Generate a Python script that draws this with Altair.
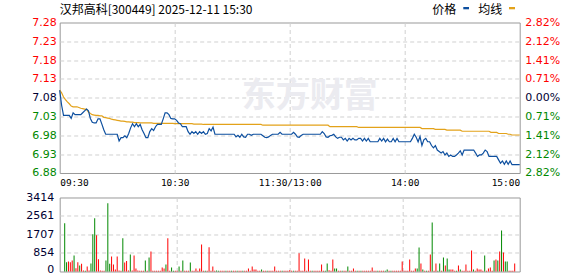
import altair as alt
import pandas as pd

title_text = "汉邦高科[300449] 2025-12-11 15:30"
legend_labels = ["价格", "均线"]
watermark_text = "东方财富"
pre_close = 7.08
price_ticks = [6.88, 6.93, 6.98, 7.03, 7.08, 7.13, 7.18, 7.23, 7.28]
vol_ticks = [0, 854, 1707, 2561, 3414]
time_ticks = [0, 60, 120, 180, 240]
time_labels = ["09:30", "10:30", "11:30/13:00", "14:00", "15:00"]

price = [
    7.100, 7.060, 7.033, 7.033, 7.033, 7.033, 7.025, 7.040, 7.035, 7.035,
    7.035, 7.035, 7.040, 7.045, 7.050, 7.045, 7.025, 7.015, 7.013, 7.013,
    7.024, 7.024, 7.010, 6.995, 6.983, 6.983, 6.983, 6.983, 6.983, 6.983,
    6.983, 6.965, 6.974, 6.974, 6.979, 6.974, 6.985, 7.000, 7.011, 7.003,
    7.011, 7.003, 7.009, 6.995, 6.985, 6.974, 6.974, 6.990, 6.998, 6.993,
    7.003, 7.009, 7.009, 7.009, 7.024, 7.040, 7.040, 7.035, 7.025, 7.024,
    7.024, 7.020, 7.013, 7.011, 7.003, 7.003, 7.003, 6.990, 6.983, 6.990,
    6.985, 6.990, 6.983, 6.990, 6.985, 6.990, 6.983, 6.985, 6.998, 6.992,
    7.002, 6.983, 6.983, 6.983, 6.983, 6.983, 6.983, 6.983, 6.983, 6.983,
    6.983, 6.983, 6.976, 6.980, 6.975, 6.983, 6.976, 6.975, 6.983, 6.983,
    6.980, 6.983, 6.983, 6.983, 6.983, 6.983, 6.979, 6.975, 6.974, 6.976,
    6.980, 6.983, 6.983, 6.983, 6.983, 6.988, 6.983, 6.983, 6.983, 6.983,
    6.983, 6.983, 6.988, 6.983, 6.976, 6.975, 6.980, 6.983, 6.983, 6.983,
    6.983, 6.983, 6.983, 6.983, 6.983, 6.983, 6.983, 6.990, 6.985, 6.976,
    6.975, 6.979, 6.980, 6.983, 6.976, 6.972, 6.975, 6.975, 6.968, 6.972,
    6.965, 6.972, 6.968, 6.972, 6.968, 6.968, 6.972, 6.972, 6.965, 6.972,
    6.965, 6.972, 6.963, 6.963, 6.963, 6.963, 6.963, 6.972, 6.965, 6.972,
    6.963, 6.970, 6.963, 6.963, 6.972, 6.963, 6.972, 6.963, 6.963, 6.963,
    6.963, 6.963, 6.963, 6.963, 6.972, 6.983, 6.975, 6.963, 6.977, 6.953,
    6.968, 6.972, 6.963, 6.963, 6.953, 6.947, 6.953, 6.941, 6.937, 6.933,
    6.937, 6.928, 6.933, 6.924, 6.928, 6.924, 6.924, 6.928, 6.933, 6.939,
    6.928, 6.941, 6.941, 6.941, 6.941, 6.941, 6.941, 6.933, 6.924, 6.928,
    6.928, 6.933, 6.941, 6.937, 6.924, 6.924, 6.924, 6.924, 6.924, 6.915,
    6.906, 6.912, 6.903, 6.912, 6.903, 6.912, 6.902, 6.902, 6.902, 6.902,
    6.902,
]

avg = [
    7.100, 7.093, 7.082, 7.075, 7.069, 7.064, 7.058, 7.056, 7.056, 7.056,
    7.054, 7.052, 7.051, 7.050, 7.049, 7.042, 7.038, 7.035, 7.034, 7.033,
    7.033, 7.032, 7.032, 7.028, 7.027, 7.026, 7.025, 7.023, 7.022, 7.021,
    7.020, 7.019, 7.018, 7.018, 7.017, 7.016, 7.016, 7.015, 7.015, 7.014,
    7.014, 7.014, 7.013, 7.013, 7.013, 7.013, 7.013, 7.013, 7.013, 7.012,
    7.012, 7.012, 7.012, 7.012, 7.012, 7.012, 7.012, 7.012, 7.012, 7.012,
    7.011, 7.011, 7.011, 7.011, 7.011, 7.011, 7.011, 7.011, 7.011, 7.011,
    7.010, 7.010, 7.010, 7.010, 7.010, 7.009, 7.009, 7.009, 7.009, 7.009,
    7.009, 7.009, 7.009, 7.009, 7.009, 7.009, 7.009, 7.009, 7.009, 7.009,
    7.009, 7.009, 7.009, 7.009, 7.009, 7.009, 7.009, 7.009, 7.009, 7.009,
    7.009, 7.009, 7.009, 7.009, 7.009, 7.009, 7.007, 7.007, 7.007, 7.007,
    7.007, 7.007, 7.007, 7.007, 7.007, 7.007, 7.007, 7.007, 7.007, 7.007,
    7.007, 7.007, 7.007, 7.007, 7.007, 7.007, 7.007, 7.007, 7.007, 7.007,
    7.007, 7.007, 7.007, 7.007, 7.007, 7.007, 7.007, 7.007, 7.007, 7.007,
    7.007, 7.003, 7.003, 7.003, 7.003, 7.003, 7.003, 7.003, 7.003, 7.003,
    7.003, 7.003, 7.003, 7.003, 7.003, 7.003, 7.001, 7.001, 7.001, 7.001,
    7.001, 7.001, 7.001, 7.001, 7.001, 7.001, 7.001, 7.001, 7.001, 7.001,
    7.001, 7.001, 7.001, 7.001, 7.001, 7.001, 7.001, 7.001, 7.001, 7.001,
    7.001, 7.001, 7.001, 7.001, 7.001, 7.001, 7.001, 7.001, 7.001, 6.998,
    6.998, 6.998, 6.998, 6.998, 6.998, 6.998, 6.996, 6.996, 6.996, 6.996,
    6.996, 6.996, 6.994, 6.994, 6.994, 6.994, 6.994, 6.994, 6.994, 6.994,
    6.991, 6.991, 6.991, 6.991, 6.991, 6.991, 6.991, 6.991, 6.991, 6.991,
    6.991, 6.991, 6.991, 6.991, 6.991, 6.988, 6.988, 6.988, 6.988, 6.985,
    6.985, 6.985, 6.985, 6.985, 6.983, 6.983, 6.981, 6.981, 6.981, 6.981,
    6.981,
]

volume = [
    2225, 430, 460, 430, 510, 740, 155, 430, 280, 355,
    50, 30, 230, 50, 370, 1715, 2460, 1670, 560, 50,
    40, 40, 510, 3150, 355, 695, 325, 90, 695, 50,
    40, 1530, 420, 480, 50, 785, 50, 740, 140, 50,
    40, 40, 40, 510, 40, 650, 925, 40, 40, 40,
    40, 40, 185, 140, 325, 1530, 40, 185, 40, 40,
    40, 230, 40, 510, 40, 40, 40, 420, 40, 40,
    140, 40, 140, 1250, 40, 40, 40, 1120, 40, 230,
    40, 50, 40, 40, 30, 40, 40, 30, 40, 40,
    40, 40, 40, 30, 40, 40, 40, 40, 140, 40,
    230, 90, 90, 40, 40, 90, 40, 40, 40, 40,
    40, 40, 230, 40, 40, 40, 40, 40, 40, 40,
    60, 40, 40, 40, 40, 846, 40, 40, 600, 40,
    554, 40, 40, 40, 40, 40, 40, 323, 40, 40,
    370, 60, 40, 554, 140, 140, 40, 40, 40, 40,
    40, 230, 40, 40, 140, 40, 40, 40, 40, 40,
    40, 40, 40, 40, 185, 40, 40, 40, 40, 40,
    40, 40, 92, 40, 40, 40, 40, 40, 40, 40,
    461, 40, 40, 40, 554, 40, 40, 140, 140, 1107,
    370, 92, 40, 40, 40, 784, 2261, 40, 370, 40,
    370, 40, 646, 277, 600, 92, 92, 92, 40, 40,
    277, 92, 40, 40, 323, 40, 40, 969, 92, 40,
    140, 92, 92, 40, 738, 40, 140, 185, 40, 508,
    554, 508, 923, 1892, 877, 461, 461, 40, 40, 40,
    370,
]

vol_dir = [
    -1, -1, 1, 1, 1, -1, 1, 1, -1, 1,
    1, -1, 1, 1, -1, -1, -1, 1, 1, 1,
    1, 1, -1, -1, -1, 1, 1, 1, 1, 1,
    1, -1, 1, 1, 1, -1, 1, 1, 1, 1,
    1, 1, 1, -1, 1, -1, 1, 1, 1, 1,
    1, 1, 1, 1, -1, 1, 1, -1, -1, 1,
    1, -1, 1, -1, 1, 1, 1, -1, 1, 1,
    1, 1, 1, 1, 1, -1, 1, 1, 1, 1,
    1, -1, -1, 1, 1, 1, -1, 1, 1, -1,
    1, 1, -1, 1, 1, -1, 1, 1, 1, 1,
    1, 1, 1, 1, 1, -1, 1, 1, -1, 1,
    1, 1, 1, 1, 1, 1, -1, 1, 1, 1,
    1, 1, -1, 1, 1, 1, 1, 1, 1, 1,
    1, 1, -1, 1, 1, 1, 1, 1, 1, -1,
    -1, 1, 1, 1, -1, -1, 1, 1, -1, 1,
    1, -1, 1, 1, 1, 1, -1, 1, -1, 1,
    1, 1, 1, 1, 1, 1, 1, -1, 1, 1,
    1, -1, -1, 1, -1, 1, 1, 1, 1, 1,
    1, 1, 1, 1, 1, 1, 1, 1, -1, -1,
    1, -1, 1, -1, 1, 1, -1, 1, 1, -1,
    -1, 1, -1, 1, -1, -1, 1, 1, 1, -1,
    1, -1, 1, 1, 1, 1, 1, 1, -1, 1,
    1, 1, 1, 1, -1, 1, 1, 1, 1, -1,
    1, -1, 1, -1, 1, -1, -1, 1, 1, 1,
    1,
]

df = pd.DataFrame({
    "i": list(range(len(price))),
    "price": price,
    "avg": avg,
    "vol": volume,
    "dir": vol_dir,
})

RED = "#ff0000"
GREEN = "#008800"
NAVY = "#000033"
GRID = "#d0d0d0"
BLUE_LINE = "#0d4f9f"
GOLD_LINE = "#e3a21a"

x_scale = alt.Scale(domain=[time_ticks[0], time_ticks[-1]], nice=False, zero=False)
y_price_scale = alt.Scale(domain=[price_ticks[0], price_ticks[-1]], nice=False, zero=False)

lab_map = "{" + ",".join(f"'{v}':'{t}'" for v, t in zip(time_ticks, time_labels)) + "}"

price_color = {
    "condition": [
        {"test": f"datum.value > {pre_close + 0.005}", "value": RED},
        {"test": f"datum.value > {pre_close - 0.005}", "value": NAVY},
    ],
    "value": GREEN,
}
price_grid_op = {
    "condition": {"test": f"datum.value < {price_ticks[0] + 0.01} || datum.value > {price_ticks[-1] - 0.01}", "value": 0},
    "value": 1,
}
x_grid_op = {
    "condition": {"test": f"datum.value < 1 || datum.value > {time_ticks[-1] - 1}", "value": 0},
    "value": 1,
}

x_axis_top = alt.Axis(
    values=time_ticks, labelExpr=f"{lab_map}[datum.value]", labelFlush=True,
    labelFont="DejaVu Sans Mono", labelFontSize=9.5, labelColor="#000000",
    labelPadding=5, ticks=False, tickSize=0, domain=False, title=None,
    grid=True, gridColor=GRID, gridDash=[4, 3], gridOpacity=x_grid_op,
)

left_axis = alt.Axis(
    orient="left", values=price_ticks, format=".2f", labelColor=price_color,
    labelFont="DejaVu Sans", labelFontSize=11, labelPadding=3.5,
    ticks=False, tickSize=0, domain=False, title=None,
    grid=True, gridColor=GRID, gridDash=[4, 3], gridOpacity=price_grid_op,
)
right_axis = alt.Axis(
    orient="right", values=price_ticks,
    labelExpr=f"format(abs(datum.value / {pre_close} - 1) * 100, '.2f') + '%'",
    labelColor=price_color, labelFont="DejaVu Sans", labelFontSize=11, labelPadding=5,
    ticks=False, tickSize=0, domain=False, title=None, grid=False,
)

avg_line = alt.Chart(df).mark_line(color=GOLD_LINE, strokeWidth=1.2).encode(
    x=alt.X("i:Q", scale=x_scale, axis=x_axis_top),
    y=alt.Y("avg:Q", scale=y_price_scale, axis=left_axis),
)
price_line = alt.Chart(df).mark_line(color=BLUE_LINE, strokeWidth=1.2).encode(
    x=alt.X("i:Q", scale=x_scale, axis=x_axis_top),
    y=alt.Y("price:Q", scale=y_price_scale, axis=right_axis),
)

watermark = alt.Chart(pd.DataFrame({"t": [watermark_text]})).mark_text(
    font="Noto Sans CJK SC", fontSize=34, fontWeight="bold", color="#ebebf0",
    align="center", baseline="middle",
).encode(x=alt.value(250), y=alt.value(74.5), text="t:N")

title_mark = alt.Chart(pd.DataFrame({"t": [title_text]})).mark_text(
    font="Noto Sans CJK SC", fontSize=12, color="#000000", align="left", baseline="middle",
).encode(x=alt.value(0), y=alt.value(-13), text="t:N")

leg1 = alt.Chart(pd.DataFrame({"t": [legend_labels[0]]})).mark_text(
    font="Noto Sans CJK SC", fontSize=12, color="#000000", align="left", baseline="middle",
).encode(x=alt.value(372.6), y=alt.value(-13), text="t:N")
leg2 = alt.Chart(pd.DataFrame({"t": [legend_labels[1]]})).mark_text(
    font="Noto Sans CJK SC", fontSize=12, color="#000000", align="left", baseline="middle",
).encode(x=alt.value(418.6), y=alt.value(-13), text="t:N")
leg1_sym = alt.Chart(pd.DataFrame({"t": [legend_labels[0]]})).mark_rect(color=BLUE_LINE).encode(
    x=alt.value(403.6), x2=alt.value(409.3), y=alt.value(-15.5), y2=alt.value(-13.2))
leg2_sym = alt.Chart(pd.DataFrame({"t": [legend_labels[1]]})).mark_rect(color=GOLD_LINE).encode(
    x=alt.value(449.3), x2=alt.value(455.3), y=alt.value(-15.5), y2=alt.value(-13.2))

top = alt.layer(
    watermark, avg_line, price_line, title_mark, leg1, leg2, leg1_sym, leg2_sym
).resolve_axis(y="independent").properties(width=460, height=150.5)

vol_grid_op = {
    "condition": {"test": f"datum.value < 1 || datum.value > {vol_ticks[-1] - 1}", "value": 0},
    "value": 1,
}
vol_label_offset = {
    "condition": {"test": "datum.value < 1", "value": -1.5},
    "value": 0,
}
vol_axis = alt.Axis(
    values=vol_ticks, format="d", labelColor=NAVY, labelFont="DejaVu Sans", labelFontSize=11,
    labelPadding=6, labelOffset=vol_label_offset, ticks=False, tickSize=0, domain=False, title=None,
    grid=True, gridColor=GRID, gridDash=[4, 3], gridOpacity=vol_grid_op,
)
x_axis_vol = alt.Axis(
    values=time_ticks, labels=False, ticks=False, tickSize=0, domain=False, title=None,
    grid=True, gridColor=GRID, gridDash=[4, 3], gridOpacity=x_grid_op,
)

vol_chart = alt.Chart(df).mark_bar(size=1).encode(
    x=alt.X("i:Q", scale=x_scale, axis=x_axis_vol),
    y=alt.Y("vol:Q", scale=alt.Scale(domain=[vol_ticks[0], vol_ticks[-1]], nice=False), axis=vol_axis),
    color=alt.Color("dir:N", scale=alt.Scale(domain=[1, -1], range=[RED, GREEN]), legend=None),
).properties(width=460, height=74)

chart = alt.vconcat(top, vol_chart, spacing=24, bounds="flush").properties(
    padding={"left": 24.7, "top": 2.5, "right": 5, "bottom": 0},
    background="white",
).configure_view(stroke="#999999", strokeWidth=1)

chart.save("out.html", embed_options={"renderer": "svg", "actions": False})
